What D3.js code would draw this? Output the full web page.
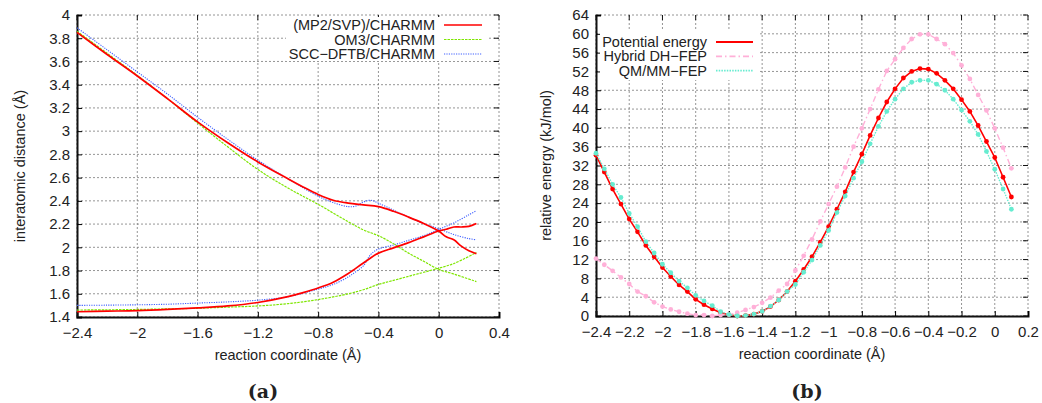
<!DOCTYPE html>
<html>
<head>
<meta charset="utf-8">
<script src="https://cdn.jsdelivr.net/npm/d3@7"></script>
<style>
  body { margin: 0; background: #fff; }
  svg text { font-family: "Liberation Sans", Arial, sans-serif; fill: #222; }
</style>
</head>
<body>
<div id="chart"></div>
<script>
// ---- panel (a): interatomic distances ----
var mp2X  = [-2.4,-2.2,-2.0,-1.8,-1.6,-1.4,-1.2,-1.0,-0.9,-0.8,-0.7,-0.6,-0.5,-0.4,-0.3,-0.2,-0.1,0.0,0.05,0.1,0.15,0.2,0.25];
var mp2D1 = [3.85,3.66,3.475,3.28,3.08,2.9,2.735,2.59,2.52,2.455,2.405,2.38,2.365,2.35,2.31,2.26,2.205,2.14,2.09,2.065,2.01,1.97,1.945];
var mp2D2 = [1.445,1.45,1.455,1.465,1.478,1.495,1.525,1.575,1.61,1.65,1.7,1.775,1.865,1.95,1.995,2.04,2.09,2.14,2.155,2.175,2.175,2.18,2.205];

var om3X  = [-2.4,-2.2,-2.0,-1.8,-1.6,-1.4,-1.2,-1.0,-0.8,-0.6,-0.5,-0.4,-0.3,-0.2,-0.1,0.0,0.1,0.25];
var om3D1 = [3.86,3.67,3.48,3.28,3.07,2.865,2.67,2.51,2.37,2.22,2.15,2.1,2.03,1.95,1.88,1.81,1.77,1.705];
var om3D2 = [1.46,1.462,1.465,1.47,1.475,1.485,1.495,1.515,1.55,1.6,1.635,1.68,1.715,1.75,1.785,1.82,1.86,1.955];

var dftbX  = [-2.4,-2.2,-2.0,-1.8,-1.6,-1.4,-1.2,-1.0,-0.8,-0.7,-0.6,-0.55,-0.5,-0.45,-0.4,-0.3,-0.2,-0.1,0.0,0.1,0.2,0.25];
var dftbD1 = [3.89,3.7,3.51,3.32,3.12,2.93,2.75,2.59,2.44,2.385,2.35,2.355,2.39,2.405,2.38,2.32,2.26,2.205,2.16,2.11,2.075,2.065];
var dftbD2 = [1.5,1.502,1.505,1.51,1.52,1.53,1.545,1.575,1.64,1.68,1.745,1.79,1.84,1.94,1.985,2.02,2.06,2.1,2.155,2.21,2.28,2.315];

var aXTicks = [-2.4,-2.0,-1.6,-1.2,-0.8,-0.4,0.0,0.4];
var aYTicks = [1.4,1.6,1.8,2.0,2.2,2.4,2.6,2.8,3.0,3.2,3.4,3.6,3.8,4.0];

// ---- panel (b): relative energies ----
var coordB = [-2.4,-2.35,-2.3,-2.25,-2.2,-2.15,-2.1,-2.05,-2.0,-1.95,-1.9,-1.85,-1.8,-1.75,-1.7,-1.65,-1.6,-1.55,-1.5,-1.45,-1.4,-1.35,-1.3,-1.25,-1.2,-1.15,-1.1,-1.05,-1.0,-0.95,-0.9,-0.85,-0.8,-0.75,-0.7,-0.65,-0.6,-0.55,-0.5,-0.45,-0.4,-0.35,-0.3,-0.25,-0.2,-0.15,-0.1,-0.05,0.0,0.05,0.1];
var potential = [34.2,30.6,27.0,23.8,20.6,17.9,15.0,12.6,10.3,8.4,6.6,5.2,3.55,2.4,1.5,0.7,0.25,0.0,0.1,0.4,1.0,2.0,3.4,5.2,7.4,9.9,12.6,15.7,19.0,22.7,26.4,30.6,34.4,38.4,42.1,45.5,48.3,50.6,52.0,52.6,52.5,51.6,50.1,48.3,46.0,43.5,40.5,37.1,33.7,29.5,25.3];
var hybrid = [12.2,10.9,9.6,8.2,6.8,5.2,4.2,2.9,2.0,1.4,0.9,0.5,0.2,0.2,0.0,0.2,0.3,0.7,1.3,1.9,2.8,3.9,5.4,6.8,9.7,12.8,16.3,20.1,23.8,27.5,31.6,36.0,39.9,44.0,48.2,52.1,54.6,57.0,58.9,59.9,59.9,58.9,57.8,55.9,53.3,50.4,47.0,43.7,39.9,35.8,31.4];
var qmmm = [34.6,31.3,28.0,25.2,21.8,19.0,15.8,13.4,11.0,9.2,7.4,6.0,4.4,3.2,2.2,0.9,0.3,0.0,0.1,0.4,1.0,2.1,3.4,5.2,6.7,9.3,11.9,15.0,18.2,22.0,25.5,29.3,32.8,36.6,40.3,43.5,46.1,48.3,49.7,50.1,50.1,49.3,48.0,46.1,43.8,41.4,38.6,35.0,31.2,27.0,22.7];

var bXTicks = [-2.4,-2.2,-2.0,-1.8,-1.6,-1.4,-1.2,-1.0,-0.8,-0.6,-0.4,-0.2,0.0,0.2];
var bYTicks = [0,4,8,12,16,20,24,28,32,36,40,44,48,52,56,60,64];

var svg = d3.select("#chart").append("svg")
  .attr("width", 1042)
  .attr("height", 403);

svg.append("rect").attr("width", 1042).attr("height", 403).attr("fill", "#fff");

function fmt(v) {
  var s = d3.format("")(+v.toFixed(1));
  return s.replace("-", "\u2212");
}

// draws frame, grid, ticks and returns the scales
function panel(opt) {
  var x = d3.scaleLinear().domain(opt.xDomain).range([opt.left, opt.right]);
  var y = d3.scaleLinear().domain(opt.yDomain).range([opt.bottom, opt.top]);
  var g = svg.append("g");

  // grid
  g.selectAll(".gx").data(opt.xTicks).enter().append("line")
    .attr("x1", d => x(d)).attr("x2", d => x(d))
    .attr("y1", opt.top).attr("y2", opt.bottom)
    .attr("stroke", "#7a7a7a").attr("stroke-width", 0.8).attr("stroke-dasharray", "2,2");
  g.selectAll(".gy").data(opt.yTicks).enter().append("line")
    .attr("x1", opt.left).attr("x2", opt.right)
    .attr("y1", d => y(d)).attr("y2", d => y(d))
    .attr("stroke", "#7a7a7a").attr("stroke-width", 0.8).attr("stroke-dasharray", "2,2");

  // axes
  g.append("g").attr("transform", "translate(0," + opt.bottom + ")")
    .call(d3.axisBottom(x).tickValues(opt.xTicks).tickSize(-5).tickPadding(10).tickFormat(fmt))
    .call(a => a.select(".domain").attr("stroke", "#111").attr("stroke-width", 2))
    .call(a => a.selectAll("text").attr("font-size", 15).attr("fill", "#222"));
  g.append("g").attr("transform", "translate(" + opt.left + ",0)")
    .call(d3.axisLeft(y).tickValues(opt.yTicks).tickSize(-5).tickPadding(7).tickFormat(fmt))
    .call(a => a.select(".domain").attr("stroke", "#111").attr("stroke-width", 2))
    .call(a => a.selectAll("text").attr("font-size", 15).attr("fill", "#222"));
  // mirrored ticks on top and right
  g.selectAll(".tt").data(opt.xTicks).enter().append("line")
    .attr("x1", d => x(d)).attr("x2", d => x(d))
    .attr("y1", opt.top).attr("y2", opt.top + 5).attr("stroke", "#111");
  g.selectAll(".tr").data(opt.yTicks).enter().append("line")
    .attr("x1", opt.right - 5).attr("x2", opt.right)
    .attr("y1", d => y(d)).attr("y2", d => y(d)).attr("stroke", "#111");

  svg.append("text").attr("x", (opt.left + opt.right) / 2).attr("y", opt.bottom + 43)
    .attr("text-anchor", "middle").attr("font-size", 14.5).text("reaction coordinate (\u00c5)");
  svg.append("text")
    .attr("transform", "translate(" + opt.yTitleX + "," + ((opt.top + opt.bottom) / 2) + ") rotate(-90)")
    .attr("text-anchor", "middle").attr("font-size", 14.5).text(opt.yTitle);
  svg.append("text").attr("x", opt.labelX).attr("y", 398)
    .attr("text-anchor", "middle").attr("font-size", 19).attr("font-weight", "bold")
    .style("font-family", "'DejaVu Serif', 'Liberation Serif', serif").text(opt.label);
  return {x: x, y: y};
}

// ---------- (a) ----------
var A = panel({
  xDomain: [-2.4, 0.4], yDomain: [1.4, 4.0],
  left: 77, right: 499, top: 15, bottom: 317,
  xTicks: aXTicks, yTicks: aYTicks,
  yTitle: "interatomic distance (\u00c5)", yTitleX: 25,
  label: "(a)", labelX: 263
});

var seriesA = [
  {x: mp2X, ys: [mp2D1, mp2D2], color: "#ff0000", width: 1.7, dash: null, name: "(MP2/SVP)/CHARMM"},
  {x: om3X, ys: [om3D1, om3D2], color: "#7ee600", width: 1.2, dash: "2.5,1", name: "OM3/CHARMM"},
  {x: dftbX, ys: [dftbD1, dftbD2], color: "#3f60ff", width: 1.1, dash: "1.2,1.2", name: "SCC\u2212DFTB/CHARMM"}
];

var lineA = d3.line().curve(d3.curveCatmullRom)
  .x(d => A.x(d[0])).y(d => A.y(d[1]));

// draw in reverse so red ends up on top
seriesA.slice().reverse().forEach(function(s) {
  s.ys.forEach(function(ys) {
    svg.append("path")
      .datum(s.x.map((v, i) => [v, ys[i]]))
      .attr("d", lineA)
      .attr("fill", "none")
      .attr("stroke", s.color)
      .attr("stroke-width", s.width)
      .attr("stroke-dasharray", s.dash);
  });
});

// legend (a)
svg.append("rect").attr("x", 286).attr("y", 17).attr("width", 202).attr("height", 44).attr("fill", "#fff");
seriesA.forEach(function(s, i) {
  var yy = 25 + i * 14.5;
  svg.append("text").attr("x", 435).attr("y", yy + 5).attr("text-anchor", "end")
    .attr("font-size", 14.5).text(s.name);
  svg.append("line").attr("x1", 444).attr("x2", 482).attr("y1", yy).attr("y2", yy)
    .attr("stroke", s.color).attr("stroke-width", s.width).attr("stroke-dasharray", s.dash);
});

// ---------- (b) ----------
var B = panel({
  xDomain: [-2.4, 0.2], yDomain: [0, 64],
  left: 596, right: 1028, top: 15, bottom: 316,
  xTicks: bXTicks, yTicks: bYTicks,
  yTitle: "relative energy (kJ/mol)", yTitleX: 551,
  label: "(b)", labelX: 807
});

var seriesB = [
  {ys: potential, color: "#ff0000", width: 1.6, dash: null, name: "Potential energy"},
  {ys: hybrid, color: "#ffb0d8", width: 1.4, dash: "6,3,1.5,3", name: "Hybrid DH\u2212FEP"},
  {ys: qmmm, color: "#66ecd0", width: 1.4, dash: "1.5,1.2", name: "QM/MM\u2212FEP"}
];

var lineB = d3.line().x(d => B.x(d[0])).y(d => B.y(d[1]));

seriesB.forEach(function(s) {
  var pts = coordB.map((v, i) => [v, s.ys[i]]);
  svg.append("path").datum(pts).attr("d", lineB)
    .attr("fill", "none").attr("stroke", s.color)
    .attr("stroke-width", s.width).attr("stroke-dasharray", s.dash);
  svg.append("g").selectAll("circle").data(pts).enter().append("circle")
    .attr("cx", d => B.x(d[0])).attr("cy", d => B.y(d[1]))
    .attr("r", 2.4).attr("fill", s.color);
});

// legend (b)
svg.append("rect").attr("x", 600).attr("y", 30).attr("width", 160).attr("height", 50).attr("fill", "#fff");
seriesB.forEach(function(s, i) {
  var yy = 42 + i * 14.3;
  svg.append("text").attr("x", 707).attr("y", yy + 5).attr("text-anchor", "end")
    .attr("font-size", 14.5).text(s.name);
  svg.append("line").attr("x1", 716).attr("x2", 753).attr("y1", yy).attr("y2", yy)
    .attr("stroke", s.color).attr("stroke-width", s.width + 0.4).attr("stroke-dasharray", s.dash);
});
</script>
</body>
</html>
